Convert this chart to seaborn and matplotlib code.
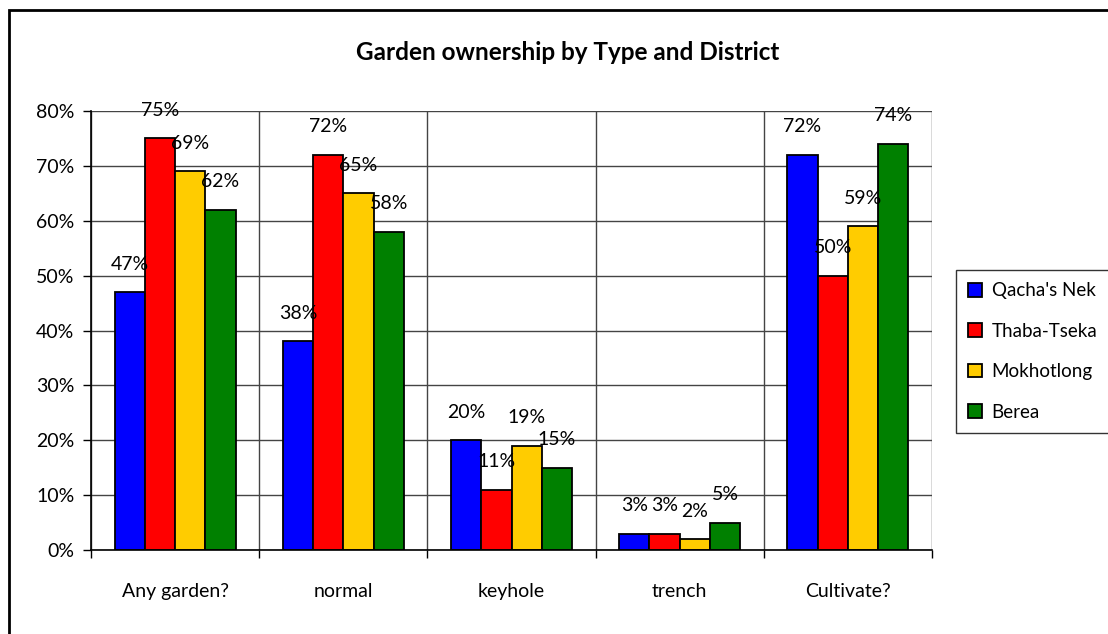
import matplotlib
matplotlib.use("Agg")
import matplotlib.pyplot as plt
from matplotlib.patches import Rectangle
from matplotlib.ticker import PercentFormatter
import seaborn as sns
import numpy as np
import pandas as pd

# data (percent)
categories = ["Any garden?", "normal", "keyhole", "trench", "Cultivate?"]
districts = ["Qacha's Nek", "Thaba-Tseka", "Mokhotlong", "Berea"]
qachas_nek = [47, 38, 20, 3, 72]
thaba_tseka = [75, 72, 11, 3, 50]
mokhotlong = [69, 65, 19, 2, 59]
berea = [62, 58, 15, 5, 74]
colors = ["#0000FF", "#FF0000", "#FFCC00", "#008000"]

rows = []
for name, vals in zip(districts, [qachas_nek, thaba_tseka, mokhotlong, berea]):
    for cat, v in zip(categories, vals):
        rows.append({"Type": cat, "District": name, "Value": v})
df = pd.DataFrame(rows)

sns.set_style("white")
plt.rcParams["font.family"] = ["Lato", "DejaVu Sans"]
plt.rcParams["text.color"] = "black"
plt.rcParams["xtick.color"] = "black"
plt.rcParams["ytick.color"] = "black"
plt.rcParams["axes.labelcolor"] = "black"

fig = plt.figure(figsize=(11.08, 6.34), dpi=100)
ax = fig.add_axes([91 / 1108, 1 - 550 / 634, (932 - 91) / 1108, (550 - 111) / 634])

sns.barplot(data=df, x="Type", y="Value", hue="District", order=categories,
            hue_order=districts, palette=colors, width=0.72, gap=0,
            edgecolor="black", linewidth=1.3, saturation=1, ax=ax, legend=False)

for cont in ax.containers:
    ax.bar_label(cont, labels=[f"{v:.0f}%" for v in cont.datavalues],
                 padding=14, fontsize=14, color="black")

ax.set_ylim(0, 80)
ax.set_yticks(np.arange(0, 81, 10))
ax.yaxis.set_major_formatter(PercentFormatter(decimals=0))
ax.set_xlim(-0.5, 4.5)
ax.set_xticks(range(len(categories)))
ax.set_xticks(np.arange(-0.5, 5, 1), minor=True)
ax.tick_params(axis="x", which="major", length=0, pad=24, labelsize=14)
ax.tick_params(axis="x", which="minor", length=6, width=1, color="black", direction="out", bottom=True)
ax.tick_params(axis="y", length=6, width=1, color="black", direction="out", left=True, pad=6, labelsize=14)
ax.grid(axis="y", which="major", color="#444444", linewidth=1)
ax.grid(axis="x", which="minor", color="#444444", linewidth=1)
ax.set_axisbelow(True)
ax.set_xlabel("")
ax.set_ylabel("")
for side in ["top", "right"]:
    ax.spines[side].set_visible(False)
for side in ["left", "bottom"]:
    ax.spines[side].set_color("black")
    ax.spines[side].set_linewidth(1.2)

fig.text(568 / 1108, 1 - 53 / 634, "Garden ownership by Type and District",
         ha="center", va="center", fontsize=17.5, fontweight="bold", color="black")

handles = [Rectangle((0, 0), 1, 1, facecolor=c, edgecolor="black", linewidth=1.3) for c in colors]
leg = fig.legend(handles, districts, loc="upper left",
                 bbox_to_anchor=(956 / 1108, 1 - 270 / 634), fontsize=13.5,
                 frameon=True, fancybox=False, edgecolor="black",
                 handlelength=0.75, handleheight=0.75, handletextpad=0.5,
                 labelspacing=1.25, borderpad=0.65, borderaxespad=0,
                 labelcolor="black")
leg.get_frame().set_linewidth(1)

# outer chart border (cut off at right and bottom like the original)
fig.patches.append(Rectangle((9 / 1108, -0.1), 1.2, 1.1 - 10 / 634,
                             transform=fig.transFigure, fill=False,
                             edgecolor="black", linewidth=2))

fig.savefig("out.png", dpi=100)
